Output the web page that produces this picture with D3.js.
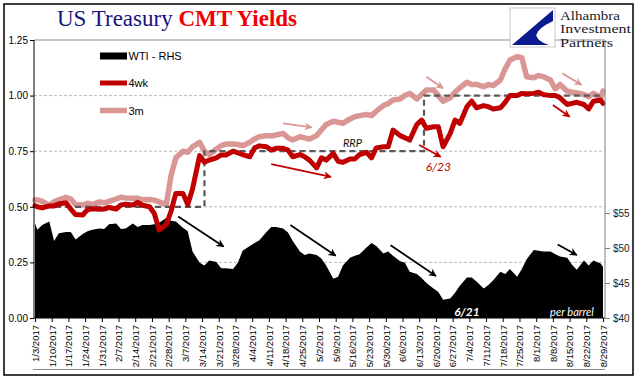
<!DOCTYPE html>
<html><head><meta charset="utf-8">
<script src="https://cdn.jsdelivr.net/npm/d3@7"></script>
<style>body{margin:0;background:#fff} svg{display:block}</style>
</head><body><svg id="c" width="641" height="381"></svg>
<script>
// ---------- DATA ----------
const dates = ["1/3","1/4","1/6","1/9","1/11","1/13","1/16","1/18","1/20","1/23","1/25","1/27",
"1/30","2/1","2/3","2/6","2/8","2/10","2/13","2/15","2/17","2/20","2/22","2/24",
"2/27","3/1","3/3","3/6","3/8","3/10","3/13","3/15","3/17","3/20","3/22","3/24",
"3/27","3/29","3/31","4/3","4/5","4/7","4/10","4/12","4/14","4/17","4/19","4/21",
"4/24","4/26","4/28","5/1","5/3","5/5","5/8","5/10","5/12","5/15","5/17","5/19",
"5/22","5/24","5/26","5/29","5/31","6/2","6/5","6/7","6/9","6/12","6/14","6/16",
"6/19","6/21","6/23","6/26","6/28","6/30","7/3","7/5","7/7","7/10","7/12","7/14",
"7/17","7/19","7/21","7/24","7/26","7/28","7/31","8/2","8/4","8/7","8/9","8/11",
"8/14","8/16","8/18","8/21","8/23","8/25","8/28","8/29"];

const wti = [53.5,52.6,53.3, 53.8,51.0,52.1, 52.3,52.3,51.2, 52.0,52.4,52.6,
52.8,52.7,53.4, 53.5,52.7,52.8, 53.5,53.0,53.3, 53.3,53.4,53.6,
54.3,53.9,53.8, 52.9,52.4,49.5, 47.9,47.5,48.2, 48.0,47.1,47.1,
47.0,47.9,49.6, 50.3,50.7,51.1, 52.3,53.0,53.0, 52.8,52.2,51.0,
49.5,49.0,49.2, 49.0,48.5,47.5, 45.6,45.9,47.5, 48.6,48.9,49.1,
50.1,50.7,50.3, 49.2,49.5,48.9, 48.1,47.9,46.6, 46.3,45.7,45.0,
44.2,43.7,42.6, 42.8,43.6,44.6, 45.8,45.8,45.2, 44.2,44.7,45.4,
46.6,46.3,47.0, 45.9,47.0,48.4, 49.7,49.6,49.5, 49.5,49.1,48.8,
48.6,47.6,46.9, 48.2,47.5,48.2, 47.8,47.3];

const bill4wk = [0.505,0.50,0.495, 0.504,0.504,0.513, 0.518,0.49,0.465, 0.463,0.487,0.491,
0.489,0.49,0.497, 0.49,0.508,0.512, 0.508,0.52,0.507, 0.50,0.47,0.396,
0.42,0.48,0.56, 0.56,0.51,0.58, 0.73,0.70,0.71, 0.72,0.733,0.733,
0.75,0.743,0.735, 0.725,0.765,0.774, 0.77,0.755,0.763, 0.763,0.755,0.725,
0.735,0.725,0.71, 0.675,0.72,0.71, 0.74,0.705,0.70, 0.715,0.715,0.735,
0.745,0.72,0.765, 0.77,0.77,0.845, 0.82,0.81,0.80, 0.87,0.89,0.853,
0.86,0.86,0.77, 0.83,0.89,0.875, 0.95,0.975,0.945, 0.955,0.95,0.94,
0.945,0.97,1.0, 1.0,1.01,1.008, 1.01,1.015,1.005, 1.0,1.0,0.99,
0.96,0.965,0.97, 0.96,0.94,0.975, 0.98,0.965];

const bill3m = [0.531,0.531,0.525, 0.505,0.523,0.531, 0.543,0.535,0.51, 0.508,0.516,0.51,
0.522,0.518,0.524, 0.535,0.543,0.54, 0.538,0.538,0.532, 0.533,0.53,0.522,
0.51,0.64,0.72, 0.75,0.745,0.77, 0.79,0.75,0.735, 0.76,0.775,0.782,
0.782,0.78,0.775, 0.79,0.805,0.815, 0.82,0.818,0.823, 0.83,0.81,0.80,
0.815,0.81,0.805, 0.82,0.845,0.87, 0.885,0.88,0.875, 0.895,0.905,0.91,
0.915,0.91,0.93, 0.955,0.965,0.98, 0.985,1.0,1.01, 0.985,1.005,1.025,
1.025,1.0,0.975, 0.99,1.015,1.035, 1.06,1.05,1.05, 1.04,1.05,1.045,
1.07,1.12,1.16, 1.175,1.17,1.085, 1.08,1.09,1.085, 1.07,1.03,1.05,
1.02,1.015,1.012, 1.005,0.995,1.01, 0.99,1.02];

const rrpDates = ["1/3","3/15","6/15","8/29"];
const rrpValues = [0.50,0.75,1.00,1.00];

const tickDates = ["1/3","1/10","1/17","1/24","1/31","2/7","2/14","2/21","2/28","3/7","3/14",
"3/21","3/28","4/4","4/11","4/18","4/25","5/2","5/9","5/16","5/23","5/30","6/6","6/13",
"6/20","6/27","7/4","7/11","7/18","7/25","8/1","8/8","8/15","8/22","8/29"];
const leftTicks = [0,0.25,0.5,0.75,1.0,1.25];
const rightTicks = [40,45,50,55];

const seriesNames = ["WTI - RHS","4wk","3m"];

// annotation arrows: [fromDate, fromValue, toDate, toValue]
const wtiArrows = [["3/4",54.5,"3/23",50.2],["4/20",53.3,"5/9",48.9],["6/1",50.4,"6/20",46.0],["8/10",50.5,"8/18",49.0]];
const redArrows = [["4/12",0.692,"5/7",0.635],["6/13",0.778,"6/22",0.725],["8/8",0.958,"8/15",0.905]];
const pinkArrows = [["4/17",0.875,"4/29",0.857],["6/16",1.085,"6/23",1.033],["8/12",1.10,"8/20",1.048]];

// ---------- CHART ----------
const parse = s => d3.timeParse("%m/%d/%Y")(s + "/2017");
const svg = d3.select("#c");
const C4 = "#C00000", C3 = "#D99694";

svg.append("rect").attr("x",4).attr("y",4).attr("width",629).attr("height",371)
  .attr("fill","#fff").attr("stroke","#000").attr("stroke-width",1.5);

const x = d3.scaleTime().domain([parse("1/3"), parse("8/29")]).range([35, 603]);
const yL = d3.scaleLinear().domain([0, 1.25]).range([318, 40]);
const yR = d3.scaleLinear().domain([40, 80]).range([318, 38]);

// gridlines
svg.append("g").selectAll("line").data(leftTicks.filter(d => d > 0 && d < 1.25)).join("line")
  .attr("x1", 34).attr("x2", 605).attr("y1", d => yL(d)).attr("y2", d => yL(d))
  .attr("stroke", "#a6a6a6").attr("stroke-width", 0.8).attr("stroke-dasharray", "3,2");
svg.append("line").attr("x1",34).attr("x2",605).attr("y1",yL(1.25)).attr("y2",yL(1.25))
  .attr("stroke","#8c8c8c").attr("stroke-width",1);
svg.append("line").attr("x1",33).attr("x2",605).attr("y1",369.5).attr("y2",369.5)
  .attr("stroke","#8c8c8c").attr("stroke-width",1);

const wtiData = dates.map((d,i) => ({date: parse(d), v: wti[i]}));
const d4 = dates.map((d,i) => ({date: parse(d), v: bill4wk[i]}));
const d3m = dates.map((d,i) => ({date: parse(d), v: bill3m[i]}));
const rrp = rrpDates.map((d,i) => ({date: parse(d), v: rrpValues[i]}));

svg.append("path").datum(wtiData).attr("fill", "#000")
  .attr("d", d3.area().x(d => x(d.date)).y0(yR(40)).y1(d => yR(d.v)));

const lineL = d3.line().x(d => x(d.date)).y(d => yL(d.v));
svg.append("path").datum(d3m).attr("fill","none").attr("stroke",C3).attr("stroke-width",5.5)
  .attr("stroke-linejoin","round").attr("stroke-linecap","round").attr("d", lineL);
svg.append("path").datum(rrp).attr("fill","none").attr("stroke","#595959").attr("stroke-width",2.2)
  .attr("stroke-dasharray","6,4").attr("d", d3.line().curve(d3.curveStepAfter).x(d => x(d.date)).y(d => yL(d.v)));
svg.append("path").datum(d4).attr("fill","none").attr("stroke",C4).attr("stroke-width",5)
  .attr("stroke-linejoin","round").attr("stroke-linecap","round").attr("d", lineL);

// axes
const xAxis = svg.append("g").attr("transform","translate(0,318)")
  .call(d3.axisBottom(x).tickValues(tickDates.map(parse)).tickFormat(d3.timeFormat("%-m/%-d/%Y")).tickSize(4));
xAxis.select(".domain").remove();
xAxis.selectAll("line").attr("stroke","#000");
xAxis.selectAll("text").attr("transform","rotate(-90)").attr("x",-7).attr("y",0).attr("dy","0.35em")
  .attr("text-anchor","end").attr("font-family","Liberation Sans, Arial, sans-serif").attr("font-size",9.5).attr("fill","#000");
svg.append("line").attr("x1",34).attr("x2",605).attr("y1",318).attr("y2",318).attr("stroke","#000").attr("stroke-width",1);

const lAxis = svg.append("g").attr("transform","translate(34,0)")
  .call(d3.axisLeft(yL).tickValues(leftTicks).tickFormat(d3.format(".2f")).tickSize(4));
lAxis.select(".domain").remove();
lAxis.selectAll("line").attr("stroke","#000");
lAxis.selectAll("text").attr("x",-6).attr("font-family","Liberation Sans, Arial, sans-serif").attr("font-size",10).attr("fill","#000");
svg.append("line").attr("x1",34).attr("x2",34).attr("y1",40).attr("y2",318).attr("stroke","#000").attr("stroke-width",1);

const rAxis = svg.append("g").attr("transform","translate(605,0)")
  .call(d3.axisRight(yR).tickValues(rightTicks).tickFormat(d => "$" + d).tickSize(5));
rAxis.select(".domain").remove();
rAxis.selectAll("line").attr("stroke","#808080");
rAxis.selectAll("text").attr("x",8).attr("font-family","Liberation Sans, Arial, sans-serif").attr("font-size",10).attr("fill","#222");
svg.append("line").attr("x1",605).attr("x2",605).attr("y1",40).attr("y2",318).attr("stroke","#808080").attr("stroke-width",1);

// arrow markers
const defs = svg.append("defs");
[["aBlack","#000"],["aRed",C4],["aPink",C3]].forEach(([id,c]) => {
  defs.append("marker").attr("id",id).attr("viewBox","0 0 10 10").attr("refX",9).attr("refY",5)
    .attr("markerWidth",9).attr("markerHeight",8).attr("markerUnits","userSpaceOnUse").attr("orient","auto")
    .append("path").attr("d","M0,0 L10,5 L0,10 L3,5 Z").attr("fill",c);
});
function arrows(list, yScale, color, id, w) {
  svg.append("g").selectAll("line").data(list).join("line")
    .attr("x1", d => x(parse(d[0]))).attr("y1", d => yScale(d[1]))
    .attr("x2", d => x(parse(d[2]))).attr("y2", d => yScale(d[3]))
    .attr("stroke", color).attr("stroke-width", w).attr("marker-end", `url(#${id})`);
}
arrows(wtiArrows, yR, "#000", "aBlack", 1.8);
arrows(redArrows, yL, C4, "aRed", 1.8);
arrows(pinkArrows, yL, C3, "aPink", 1.8);

// text annotations
svg.append("text").attr("x", x(parse("5/16"))).attr("y", yL(0.77)).attr("text-anchor","middle")
  .attr("font-family","Lato, sans-serif").attr("font-style","italic").attr("font-size",11).attr("fill","#111").text("RRP");
svg.append("text").attr("x", x(parse("6/21"))).attr("y", yL(0.66)).attr("text-anchor","middle")
  .attr("font-family","Lato, sans-serif").attr("font-style","italic").attr("font-size",12).attr("fill",C4).text("6/23");
svg.append("text").attr("x", x(parse("7/3"))).attr("y", yR(40.3)).attr("text-anchor","middle")
  .attr("font-family","Lato, sans-serif").attr("font-style","italic").attr("font-weight","bold").attr("font-size",12).attr("fill","#fff").text("6/21");
svg.append("text").attr("x", x(parse("8/16"))).attr("y", yR(40.3)).attr("text-anchor","middle")
  .attr("font-family","Lato, sans-serif").attr("font-style","italic").attr("font-size",11).attr("fill","#fff").text("per barrel");

// legend
const leg = svg.append("g").attr("font-family","Liberation Sans, Arial, sans-serif").attr("font-size",11);
const legY = [56, 83, 110.5];
seriesNames.forEach((n,i) => {
  if (i === 0) leg.append("rect").attr("x",100).attr("y",legY[i]-3.5).attr("width",27).attr("height",7).attr("fill","#000");
  else leg.append("line").attr("x1",100).attr("x2",127).attr("y1",legY[i]).attr("y2",legY[i])
    .attr("stroke", i === 1 ? C4 : C3).attr("stroke-width", i === 1 ? 5 : 5.5);
  leg.append("text").attr("x",128.5).attr("y",legY[i]+4).attr("fill","#000").text(n);
});

// title
const t = svg.append("text").attr("x",57).attr("y",26).attr("font-family","Liberation Serif, Times New Roman, serif").attr("font-size",23);
t.append("tspan").attr("fill","#14147a").text("US Treasury ");
t.append("tspan").attr("fill","#f00000").attr("font-weight","bold").text("CMT Yields");

// logo
const lg = svg.append("g");
lg.append("rect").attr("x",510).attr("y",8).attr("width",45).attr("height",39).attr("fill","#fff").attr("stroke","#c8c8c8").attr("stroke-width",1);
lg.append("path").attr("d","M553,10 L512,45 L549,45 Q522,36 553,21 Z").attr("fill","#0b1a8c");
const lt = lg.append("g").attr("font-family","Liberation Serif, Times New Roman, serif").attr("font-size",12).attr("fill","#1a1a2e");
const logoWords = ["Alhambra","Investment","Partners"];
const logoW = [60, 71, 53];
logoWords.forEach((s,i) => lt.append("text").attr("x",560).attr("y",19.5 + i*13.5)
  .attr("textLength", logoW[i]).attr("lengthAdjust","spacingAndGlyphs").text(s));
</script></body></html>
